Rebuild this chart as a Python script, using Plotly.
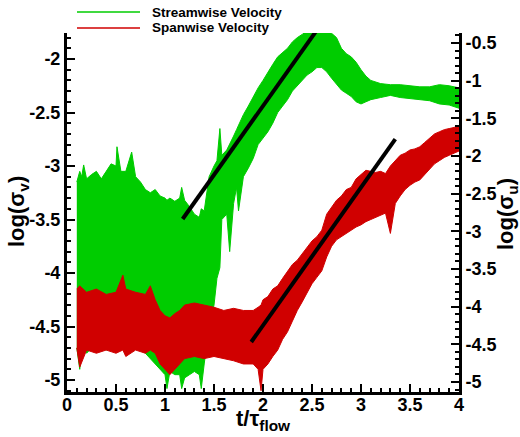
import plotly.graph_objects as go

# ---------------- data (left-axis units) ----------------
green_t = [0.10, 0.13, 0.15, 0.17, 0.20, 0.25, 0.30, 0.35, 0.40, 0.45, 0.50, 0.51, 0.55, 0.60,
           0.66, 0.70, 0.75, 0.80, 0.85, 0.90, 0.95, 1.00, 1.02, 1.05, 1.10, 1.15, 1.17, 1.20,
           1.25, 1.30, 1.35, 1.37, 1.40, 1.45, 1.50, 1.53, 1.56, 1.58, 1.63, 1.66, 1.70, 1.73,
           1.75, 1.80, 1.85, 1.90, 1.95, 2.00, 2.05, 2.10, 2.15, 2.20, 2.25, 2.30, 2.35, 2.40,
           2.45, 2.50, 2.55, 2.60, 2.65, 2.70, 2.75, 2.80, 2.85, 2.90, 2.95, 3.00, 3.05, 3.10,
           3.20, 3.30, 3.40, 3.50, 3.60, 3.70, 3.80, 3.90, 4.00]
green_upper = [-3.15, -3.05, -3.10, -2.99, -3.12, -3.08, -3.05, -3.12, -3.05, -2.98, -3.00, -2.82,
               -3.05, -3.05, -2.87, -3.10, -3.15, -3.22, -3.25, -3.22, -3.28, -3.30, -3.32, -3.30,
               -3.33, -3.30, -3.20, -3.32, -3.38, -3.45, -3.48, -3.40, -3.42, -3.10, -3.00, -2.95,
               -2.65, -2.90, -2.85, -2.80, -2.72, -2.66, -2.62, -2.52, -2.44, -2.35, -2.27, -2.20,
               -2.12, -2.05, -1.98, -1.94, -1.90, -1.84, -1.80, -1.77, -1.74, -1.74, -1.74, -1.74,
               -1.74, -1.76, -1.80, -1.90, -1.95, -1.98, -2.03, -2.10, -2.16, -2.20, -2.23, -2.24,
               -2.24, -2.25, -2.26, -2.26, -2.24, -2.25, -2.27]
green_lower = [-4.70, -4.90, -4.72, -4.70, -4.75, -4.70, -4.72, -4.68, -4.72, -4.70, -4.68, -4.70,
               -4.72, -4.70, -4.72, -4.70, -4.72, -4.75, -4.80, -4.85, -4.90, -4.95, -5.08, -4.92,
               -4.95, -4.95, -5.08, -4.98, -4.95, -4.92, -4.95, -5.08, -4.85, -4.50, -4.30, -4.05,
               -3.95, -3.50, -3.45, -3.80, -3.35, -3.20, -3.42, -3.10, -3.02, -2.93, -2.80, -2.74,
               -2.68, -2.60, -2.50, -2.44, -2.38, -2.30, -2.25, -2.20, -2.15, -2.12, -2.08, -2.08,
               -2.12, -2.18, -2.24, -2.29, -2.32, -2.35, -2.40, -2.42, -2.40, -2.38, -2.36, -2.34,
               -2.36, -2.37, -2.38, -2.39, -2.42, -2.43, -2.46]

red_t = [0.10, 0.13, 0.20, 0.30, 0.40, 0.50, 0.57, 0.60, 0.70, 0.80, 0.85, 0.90, 0.95, 1.00,
         1.05, 1.10, 1.15, 1.20, 1.30, 1.40, 1.50, 1.60, 1.70, 1.80, 1.90, 1.95, 1.98, 2.00,
         2.05, 2.10, 2.15, 2.20, 2.25, 2.30, 2.35, 2.40, 2.45, 2.50, 2.55, 2.60, 2.65, 2.70,
         2.75, 2.80, 2.85, 2.90, 2.95, 3.00, 3.05, 3.10, 3.15, 3.20, 3.25, 3.30, 3.35, 3.40,
         3.45, 3.50, 3.55, 3.60, 3.65, 3.70, 3.75, 3.80, 3.85, 3.90, 3.95, 4.00]
red_upper = [-4.15, -4.12, -4.18, -4.15, -4.20, -4.18, -4.02, -4.15, -4.18, -4.20, -4.12, -4.25,
             -4.35, -4.40, -4.42, -4.38, -4.35, -4.30, -4.28, -4.30, -4.32, -4.35, -4.33, -4.35,
             -4.35, -4.32, -4.30, -4.25, -4.22, -4.15, -4.12, -4.05, -3.98, -3.92, -3.88, -3.82,
             -3.76, -3.70, -3.66, -3.60, -3.45, -3.38, -3.32, -3.28, -3.22, -3.20, -3.12, -3.08,
             -3.04, -3.05, -3.06, -3.05, -3.07, -3.00, -2.95, -2.90, -2.88, -2.85, -2.84, -2.82,
             -2.78, -2.74, -2.70, -2.68, -2.66, -2.65, -2.64, -2.62]
red_lower = [-4.70, -4.88, -4.72, -4.75, -4.72, -4.75, -4.72, -4.78, -4.72, -4.75, -4.72, -4.75,
             -4.85, -4.90, -4.95, -4.90, -4.85, -4.80, -4.78, -4.80, -4.78, -4.80, -4.82, -4.85,
             -4.85, -4.90, -5.10, -4.90, -4.85, -4.78, -4.72, -4.62, -4.55, -4.45, -4.35, -4.27,
             -4.18, -4.10, -4.04, -3.98, -3.85, -3.75, -3.69, -3.66, -3.63, -3.60, -3.57, -3.55,
             -3.52, -3.50, -3.48, -3.46, -3.44, -3.63, -3.35, -3.28, -3.22, -3.18, -3.15, -3.13,
             -3.08, -3.03, -2.98, -2.95, -2.92, -2.90, -2.88, -2.86]

fit1_t = [1.18, 2.55]
fit1_y = [-3.495, -1.73]
fit2_t = [1.88, 3.35]
fit2_y = [-4.645, -2.748]

series_names = ["Streamwise Velocity", "Spanwise Velocity"]
x_ticks = [0, 0.5, 1, 1.5, 2, 2.5, 3, 3.5, 4]
x_ticktext = ["0", "0.5", "1", "1.5", "2", "2.5", "3", "3.5", "4"]
yl_ticks = [-5, -4.5, -4, -3.5, -3, -2.5, -2]
yl_ticktext = ["-5", "-4.5", "-4", "-3.5", "-3", "-2.5", "-2"]
yr_ticks = [-5, -4.5, -4, -3.5, -3, -2.5, -2, -1.5, -1, -0.5]
yr_ticktext = ["-5", "-4.5", "-4", "-3.5", "-3", "-2.5", "-2", "-1.5", "-1", "-0.5"]

# ---------------- styling ----------------
GREEN = "rgb(0,204,0)"
RED = "rgb(208,0,0)"
FONT = "Liberation Sans, Arial, sans-serif"
W, H = 520, 437
ML, MR, MT, MB = 67, 61, 33, 45
PW, PH = W - ML - MR, H - MT - MB


def px_x(p):
    return (p - ML) / PW


def px_y(p):
    return (H - MB - p) / PH


fig = go.Figure()


def band(t, lo, hi, color):
    fig.add_trace(go.Scatter(x=t, y=lo, mode="lines", line=dict(color=color, width=1),
                             showlegend=False, hoverinfo="skip"))
    fig.add_trace(go.Scatter(x=t, y=hi, mode="lines", line=dict(color=color, width=1),
                             fill="tonexty", fillcolor=color, showlegend=False, hoverinfo="skip"))


band(green_t, green_lower, green_upper, GREEN)
band(red_t, red_lower, red_upper, RED)

fig.add_trace(go.Scatter(x=fit1_t, y=fit1_y, mode="lines", line=dict(color="black", width=4),
                         showlegend=False))
fig.add_trace(go.Scatter(x=fit2_t, y=fit2_y, mode="lines", line=dict(color="black", width=4),
                         showlegend=False))
# empty trace so that the right axis is drawn
fig.add_trace(go.Scatter(x=[None], y=[None], yaxis="y2", showlegend=False))

tickfont = dict(family=FONT, size=18, color="black", weight="bold")
axis_common = dict(showline=True, linecolor="black", linewidth=3, ticks="inside",
                   ticklen=8, tickwidth=2, tickcolor="black", showgrid=False, zeroline=False,
                   tickfont=tickfont)
minor_ticks = dict(dtick=0.1, ticks="inside", ticklen=4, tickwidth=1.5, tickcolor="black")

fig.update_layout(
    width=W, height=H,
    margin=dict(l=ML, r=MR, t=MT, b=MB),
    paper_bgcolor="white", plot_bgcolor="white",
    xaxis=dict(range=[0, 4], tickvals=x_ticks, ticktext=x_ticktext, minor=minor_ticks,
               ticklabelstandoff=-6, **axis_common),
    yaxis=dict(range=[-5.112, -1.757], tickvals=yl_ticks, ticktext=yl_ticktext,
               minor=minor_ticks, **axis_common),
    yaxis2=dict(range=[-5.133, -0.367], overlaying="y", side="right", anchor="x",
                tickvals=yr_ticks, ticktext=yr_ticktext, minor=minor_ticks, **axis_common),
    showlegend=False,
)

titlefont = dict(family=FONT, size=22, color="black", weight="bold")
fig.add_annotation(text="t/τ<sub>flow</sub>", xref="paper", yref="paper", x=0.5,
                   y=px_y(404), xanchor="center", yanchor="top", showarrow=False, font=titlefont)
fig.add_annotation(text="log(σ<sub>v</sub>)", xref="paper", yref="paper", x=px_x(18),
                   y=px_y(212), xanchor="center", yanchor="middle", textangle=-90,
                   showarrow=False, font=titlefont)
fig.add_annotation(text="log(σ<sub>u</sub>)", xref="paper", yref="paper", x=px_x(507),
                   y=px_y(214), xanchor="center", yanchor="middle", textangle=-90,
                   showarrow=False, font=titlefont)

# legend drawn manually (long line samples)
legfont = dict(family=FONT, size=13.5, color="black", weight="bold")
for name, color, py in zip(series_names, [GREEN, RED], [12, 28]):
    fig.add_shape(type="line", xref="paper", yref="paper", x0=px_x(77), x1=px_x(140),
                  y0=px_y(py), y1=px_y(py), line=dict(color=color, width=1.5))
    fig.add_annotation(text=name, xref="paper", yref="paper", x=px_x(150), y=px_y(py),
                       xanchor="left", yanchor="middle", showarrow=False, font=legfont)

fig.write_html("out.html", config={"displayModeBar": False},
               post_script="document.body.style.margin='0';")
